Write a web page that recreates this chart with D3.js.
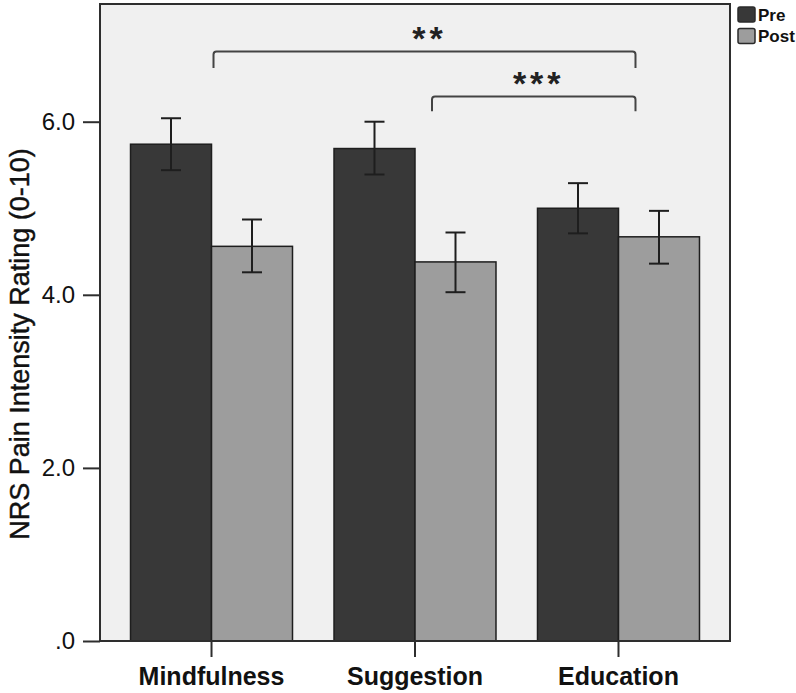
<!DOCTYPE html>
<html>
<head>
<meta charset="utf-8">
<script src="https://cdn.jsdelivr.net/npm/d3@7"></script>
<style>
    body { margin: 0; background: white; }
    text { font-family: "Liberation Sans", Arial, sans-serif; }
</style>
</head>
<body>
<svg id="chart" width="796" height="693"></svg>
<script>
let categories = ["Mindfulness", "Suggestion", "Education"];
let series = ["Pre", "Post"];
let preMeans = [5.74, 5.69, 5.00];
let preLower = [5.44, 5.39, 4.71];
let preUpper = [6.04, 6.00, 5.29];
let postMeans = [4.56, 4.38, 4.67];
let postLower = [4.26, 4.03, 4.36];
let postUpper = [4.87, 4.72, 4.97];
let yTicks = [0, 2, 4, 6];
let yTickLabels = [".0", "2.0", "4.0", "6.0"];
let brackets = [
    { "from": "Mindfulness", "to": "Education", "label": "**" },
    { "from": "Suggestion", "to": "Education", "label": "***" }
];

let svg = d3.select("#chart");

let plot = { "left": 100, "top": 4, "right": 730, "bottom": 641 };
let colors = { "Pre": "#383838", "Post": "#9d9d9d" };

let x = d3.scaleBand()
    .domain(categories)
    .range([plot.left, plot.right])
    .paddingInner(0.204)
    .paddingOuter(0.15);

let xInner = d3.scaleBand()
    .domain(series)
    .range([0, x.bandwidth()]);

let y = d3.scaleLinear()
    .domain([0, 7.36])
    .range([plot.bottom, plot.top]);

// plot background
svg.append("rect")
    .attr("x", plot.left)
    .attr("y", plot.top)
    .attr("width", plot.right - plot.left)
    .attr("height", plot.bottom - plot.top)
    .style("fill", "#f0f0f0");

let rows = [];
for (let i in categories) {
    rows.push({ "cat": categories[i], "s": "Pre", "mean": preMeans[i], "lo": preLower[i], "hi": preUpper[i] });
    rows.push({ "cat": categories[i], "s": "Post", "mean": postMeans[i], "lo": postLower[i], "hi": postUpper[i] });
}

svg.append("g")
    .selectAll("rect")
    .data(rows)
    .join("rect")
    .attr("x", d => x(d.cat) + xInner(d.s))
    .attr("y", d => y(d.mean))
    .attr("width", xInner.bandwidth())
    .attr("height", d => y(0) - y(d.mean))
    .style("fill", d => colors[d.s])
    .style("stroke", "#1e1e1e")
    .style("stroke-width", 1.5);

// error bars
let errs = svg.append("g")
    .style("stroke", "#1e1e1e")
    .style("stroke-width", 2);

for (let d of rows) {
    let cx = x(d.cat) + xInner(d.s) + xInner.bandwidth() / 2;
    errs.append("line")
        .attr("x1", cx).attr("x2", cx)
        .attr("y1", y(d.lo)).attr("y2", y(d.hi));
    errs.append("line")
        .attr("x1", cx - 10).attr("x2", cx + 10)
        .attr("y1", y(d.lo)).attr("y2", y(d.lo));
    errs.append("line")
        .attr("x1", cx - 10).attr("x2", cx + 10)
        .attr("y1", y(d.hi)).attr("y2", y(d.hi));
}

// plot frame
svg.append("rect")
    .attr("x", plot.left)
    .attr("y", plot.top)
    .attr("width", plot.right - plot.left)
    .attr("height", plot.bottom - plot.top)
    .style("fill", "none")
    .style("stroke", "#2e2e2e")
    .style("stroke-width", 2);

// y axis
let yAxis = svg.append("g")
    .attr("transform", `translate(${plot.left}, 0)`)
    .call(d3.axisLeft(y)
        .tickValues(yTicks)
        .tickSize(17)
        .tickPadding(8)
        .tickFormat((d, i) => yTickLabels[i]));
yAxis.select(".domain").remove();
yAxis.selectAll("line").style("stroke", "#2e2e2e").style("stroke-width", 2);
yAxis.selectAll("text")
    .style("font-family", "Liberation Sans, Arial, sans-serif")
    .style("font-size", "24px")
    .style("fill", "#111");

// x axis
let xAxis = svg.append("g")
    .attr("transform", `translate(0, ${plot.bottom})`)
    .call(d3.axisBottom(x).tickSize(16).tickPadding(10));
xAxis.select(".domain").remove();
xAxis.selectAll("line").style("stroke", "#2e2e2e").style("stroke-width", 2);
xAxis.selectAll("text")
    .style("font-family", "Liberation Sans, Arial, sans-serif")
    .style("font-size", "25px")
    .style("font-weight", "bold")
    .style("fill", "#111");

// y title
svg.append("text")
    .attr("transform", "translate(29, 344) rotate(-90)")
    .attr("text-anchor", "middle")
    .style("font-size", "27px")
    .style("fill", "#111")
    .style("stroke", "#111")
    .style("stroke-width", 0.4)
    .text("NRS Pain Intensity Rating (0-10)");

// significance brackets
let levels = [[6.81, 6.62], [6.29, 6.12]];
let offsets = { "Mindfulness": 2, "Suggestion": 17, "Education": 17 };
for (let i in brackets) {
    let b = brackets[i];
    let x1 = x(b.from) + x.bandwidth() / 2 + offsets[b.from];
    let x2 = x(b.to) + x.bandwidth() / 2 + offsets[b.to];
    let yTop = y(levels[i][0]);
    let yEnd = y(levels[i][1]);
    svg.append("path")
        .attr("d", `M${x1},${yEnd} V${yTop + 3} Q${x1},${yTop} ${x1 + 3},${yTop} H${x2 - 3} Q${x2},${yTop} ${x2},${yTop + 3} V${yEnd}`)
        .style("fill", "none")
        .style("stroke", "#444")
        .style("stroke-width", 2);
    svg.append("text")
        .attr("x", (x1 + x2) / 2 + 5)
        .attr("y", yTop - 2)
        .attr("text-anchor", "middle")
        .style("font-size", "34px")
        .style("font-weight", "bold")
        .style("letter-spacing", "4px")
        .style("fill", "#222")
        .text(b.label);
}

// legend
let legend = svg.append("g");
for (let i in series) {
    let g = legend.append("g")
        .attr("transform", `translate(738, ${7 + i * 21.5})`);
    g.append("rect")
        .attr("width", 17)
        .attr("height", 15)
        .attr("rx", 2)
        .style("fill", colors[series[i]])
        .style("stroke", "#2a2a2a")
        .style("stroke-width", 1.5);
    g.append("text")
        .attr("x", 20)
        .attr("y", 13.5)
        .style("font-size", "17px")
        .style("font-weight", "bold")
        .style("fill", "#111")
        .text(series[i]);
}
</script>
</body>
</html>
